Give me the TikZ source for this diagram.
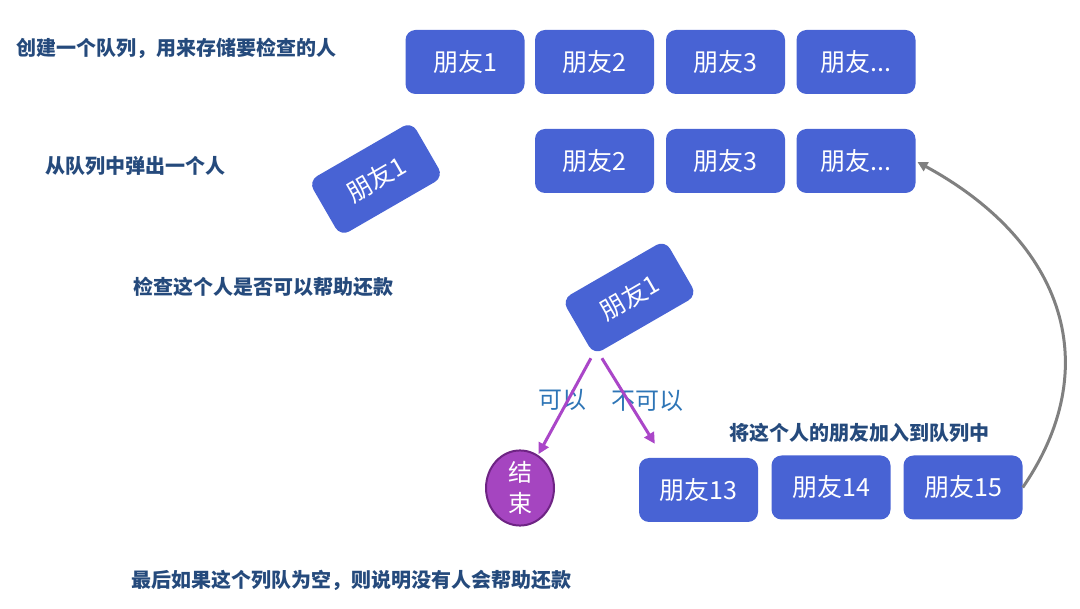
\documentclass[tikz,border=0pt]{standalone}
\usepackage{fontspec}
\setmainfont{Noto Sans CJK SC}
\usetikzlibrary{arrows.meta,shapes.geometric}
\definecolor{boxblue}{HTML}{4863D4}
\definecolor{headblue}{HTML}{254A7C}
\definecolor{lblblue}{HTML}{2E75B6}
\definecolor{arrpurple}{HTML}{AA46C8}
\definecolor{endfill}{HTML}{A545C0}
\definecolor{enddraw}{HTML}{6E2484}
\definecolor{arrgrey}{HTML}{808080}
\tikzset{
  qbox/.style={draw=none, fill=boxblue, rounded corners=10pt, minimum width=119pt, minimum height=64pt,
    inner sep=0pt, text=white, font=\fontsize{25}{30}\selectfont},
  heading/.style={anchor=west, inner sep=0pt, text=headblue, font=\fontsize{20}{24}\selectfont\bfseries},
  choice/.style={inner sep=0pt, text=lblblue, font=\fontsize{24}{28}\selectfont},
  parrow/.style={draw=arrpurple, line width=3pt, -{Triangle[length=11pt,width=11pt]}},
  garrow/.style={draw=arrgrey, line width=3pt, -{Triangle[length=10pt,width=10pt]}},
}
\begin{document}
\begin{tikzpicture}[x=1pt,y=-1pt]
\useasboundingbox (0,0) rectangle (1080,609);
% headings
\node[heading] (h1) at (16,48) {创建一个队列，用来存储要检查的人};
\node[heading] (h2) at (45,166) {从队列中弹出一个人};
\node[heading] (h3) at (133,287) {检查这个人是否可以帮助还款};
\node[heading] (h4) at (131,580) {最后如果这个列队为空，则说明没有人会帮助还款};
\node[heading] (h5) at (729,433) {将这个人的朋友加入到队列中};
% row 1
\node[qbox] (a1) at (465,62) {朋友1};
\node[qbox] (a2) at (594.5,62) {朋友2};
\node[qbox] (a3) at (725.5,62) {朋友3};
\node[qbox] (a4) at (856,62) {朋友...};
% row 2
\node[qbox] (b2) at (594.5,161) {朋友2};
\node[qbox] (b3) at (725.5,161) {朋友3};
\node[qbox] (b4) at (856,161) {朋友...};
% popped
\node[qbox, rotate=30] (p1) at (376,179) {朋友1};
% checked
\node[qbox, rotate=30] (c1) at (629.5,297.5) {朋友1};
% end
\node[ellipse, fill=endfill, draw=enddraw, line width=2pt, minimum width=68pt, minimum height=62pt,
  inner sep=0pt, text=white, align=center, font=\fontsize{24}{31}\selectfont] (e) at (520,488) {结\\束};
% row 3
\node[qbox] (f13) at (698.5,490) {朋友13};
\node[qbox] (f14) at (831,487.5) {朋友14};
\node[qbox] (f15) at (963,487.5) {朋友15};
% labels
\node[choice] (l1) at (562,400) {可以};
\node[choice] (l2) at (647,401) {不可以};
% arrows
\draw[parrow, shorten >=1pt] ([xshift=-3pt,yshift=-3pt]c1.south west) -- (e);
\draw[parrow] ([xshift=8pt,yshift=-3pt]c1.south west) -- ([xshift=16pt,yshift=14pt]f13.north west);
\draw[garrow, shorten >=2pt] (f15.east) .. controls (1105,368) and (1066,243) .. (b4.east);
\end{tikzpicture}
\end{document}
